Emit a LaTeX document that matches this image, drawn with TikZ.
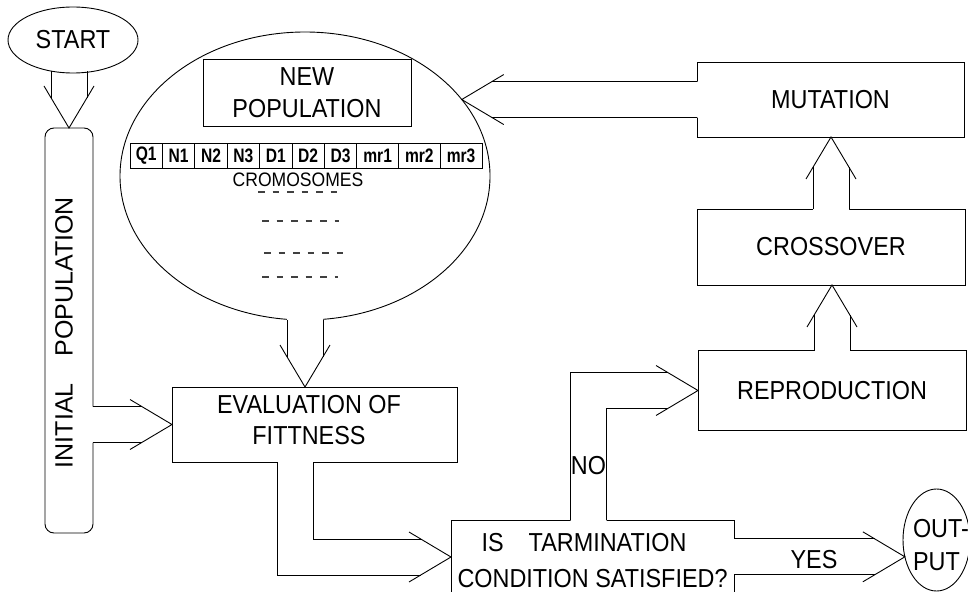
\documentclass[tikz,border=0pt]{standalone}
\usepackage{fontspec}
\setmainfont{Liberation Sans}[FakeStretch=0.9]
\newfontfamily\uprightsans{Liberation Sans}
\newfontfamily\cellsans{Liberation Sans}[FakeStretch=0.8]
\usetikzlibrary{shapes.geometric,calc}

\newcommand\lblfont{\fontsize{26}{31.5}\selectfont}
% block-arrow geometry: shaft half width, head half width, head length, shaft/head meeting distance
\def\baw{18pt}\def\bah{25pt}\def\bahl{42pt}\def\bamt{30.24pt}

% straight hollow block arrow from #2 (base) to #3 (tip);
% optional #1 = how far the white fill reaches back into the source shape
\newcommand\barrow[3][-1]{%
  \coordinate (ba-s) at (#2);
  \coordinate (ba-t) at (#3);
  \coordinate (ba-m) at ($(ba-t)!\bamt!(ba-s)$);
  \coordinate (ba-h) at ($(ba-t)!\bahl!(ba-s)$);
  \ifdim #1pt<0pt\else
    \coordinate (ba-e) at ($(ba-s)!-#1pt!(ba-t)$);
    \fill[white] ($(ba-e)!\baw!90:(ba-t)$) -- ($(ba-m)!\baw!90:(ba-t)$) -- (ba-t)
      -- ($(ba-m)!\baw!-90:(ba-t)$) -- ($(ba-e)!\baw!-90:(ba-t)$) -- cycle;
  \fi
  \draw ($(ba-s)!\baw!90:(ba-t)$) -- ($(ba-m)!\baw!90:(ba-t)$);
  \draw ($(ba-s)!\baw!-90:(ba-t)$) -- ($(ba-m)!\baw!-90:(ba-t)$);
  \draw ($(ba-h)!\bah!90:(ba-t)$) -- (ba-t) -- ($(ba-h)!\bah!-90:(ba-t)$);
}

\tikzset{
  box/.style={draw, rectangle, inner sep=0pt, outer sep=0pt, font=\lblfont, align=center},
  oval/.style={draw, ellipse, inner sep=0pt, outer sep=0pt, font=\lblfont},
  txt/.style={inner sep=0pt, outer sep=0pt, font=\lblfont},
  cell/.style={draw, rectangle, inner sep=0pt, outer sep=0pt, minimum height=25,
    font=\cellsans\bfseries\fontsize{19.5}{20}\selectfont},
  hyph/.style={dash pattern=on 6.5pt off 8pt, line width=1.4pt, black!75},
}

\begin{document}
\begin{tikzpicture}[x=1pt, y=-1pt, line width=0.9pt, line join=miter]
\useasboundingbox (0,0) rectangle (968,591);
\clip (0,0) rectangle (968,591);

% ---- shapes ----
\node[oval, minimum width=130, minimum height=66] (start) at (73,40) {START};
\node[box, rounded corners=9, minimum width=48, minimum height=405] (initpop) at (69,330.5) {};
\node[oval, minimum width=370, minimum height=288] (bigell) at (305,176) {};
\node[box, minimum width=208, minimum height=67] (newpop) at (307,92.5) {NEW\\POPULATION};
\node[box, minimum width=285, minimum height=75] (eval) at (314.5,424.5) {};
\node[box, minimum width=283, minimum height=74] (dec) at (592.5,557) {};
\node[oval, minimum width=67, minimum height=102] (output) at (936.5,540) {};
\node[box, minimum width=267, minimum height=75] (mutation) at (830.5,99.5) {MUTATION};
\node[box, minimum width=268, minimum height=76] (crossover) at (831,247) {CROSSOVER};
\node[box, minimum width=268, minimum height=80] (repro) at (832,390.5) {REPRODUCTION};

% chromosome string
\foreach \lab/\cx/\cw in {Q1/146.2/32.4, N1/178.6/32.4, N2/211.0/32.4, N3/243.4/32.4,
    D1/275.8/32.4, D2/308.2/32.4, D3/340.6/32.4, mr1/377.65/41.7, mr2/419.35/41.7, mr3/461.1/41.8}
  \node[cell, minimum width=\cw] (cell-\lab) at (\cx,155.5) {\lab};
\node[txt, font=\fontsize{19.5}{20}\selectfont] (cromo) at (298,180) {CROMOSOMES};
\draw[hyph] (258,192) -- (337,192);
\draw[hyph] (262,221) -- (339,221);
\draw[hyph] (264,253) -- (343,253);
\draw[hyph] (262,277) -- (338,277);

% ---- straight block arrows ----
\barrow{$(initpop.north |- start.south)+(0,-1.5)$}{initpop.north}
\barrow[3]{bigell.south}{bigell.south |- eval.north}
\barrow[3]{initpop.east |- eval.west}{eval.west}
\barrow[3]{mutation.west |- bigell.26}{bigell.26}
\barrow[3]{repro.north}{repro.north |- crossover.south}
\barrow[3]{crossover.north}{crossover.north |- mutation.south}
\barrow[3]{output.208 -| dec.east}{output.208}

% ---- bent block arrow: evaluation -> termination test ----
\coordinate (ed-s) at ($(eval.south)+(-19.5,0)$);
\coordinate (ed-t) at (dec.west);
\coordinate (ed-c) at (ed-s |- ed-t);
\fill[white] ($(ed-s)+(-18,-3)$) -- ($(ed-c)+(-18,18)$) -- ($(ed-t)+(-30.24,18)$) -- (ed-t)
  -- ($(ed-t)+(-30.24,-18)$) -- ($(ed-c)+(18,-18)$) -- ($(ed-s)+(18,-3)$) -- cycle;
\draw ($(ed-s)+(-18,0)$) -- ($(ed-c)+(-18,18)$) -- ($(ed-t)+(-30.24,18)$);
\draw ($(ed-s)+(18,0)$) -- ($(ed-c)+(18,-18)$) -- ($(ed-t)+(-30.24,-18)$);
\draw ($(ed-t)+(-42,-25)$) -- (ed-t) -- ($(ed-t)+(-42,25)$);

% ---- bent block arrow: termination test -> reproduction (NO) ----
\coordinate (nr-s) at ($(dec.north)+(-4,0)$);
\coordinate (nr-t) at (repro.west);
\coordinate (nr-c) at (nr-s |- nr-t);
\fill[white] ($(nr-s)+(-18,3)$) -- ($(nr-c)+(-18,-18)$) -- ($(nr-t)+(-30.24,-18)$) -- (nr-t)
  -- ($(nr-t)+(-30.24,18)$) -- ($(nr-c)+(18,18)$) -- ($(nr-s)+(18,3)$) -- cycle;
\draw ($(nr-s)+(-18,0)$) -- ($(nr-c)+(-18,-18)$) -- ($(nr-t)+(-30.24,-18)$);
\draw ($(nr-s)+(18,0)$) -- ($(nr-c)+(18,18)$) -- ($(nr-t)+(-30.24,18)$);
\draw ($(nr-t)+(-42,-25)$) -- (nr-t) -- ($(nr-t)+(-42,25)$);

% ---- texts ----
\node[txt, font=\uprightsans\fontsize{25}{30}\selectfont, rotate=90] (iptext) at (64,332.5)
  {INITIAL\hspace{27pt}POPULATION};
\node[txt, align=center] (evaltext) at (309,420) {EVALUATION OF\\FITTNESS};
\node[txt, anchor=base] (dec1) at (584,551) {IS\hspace{25pt}TARMINATION};
\node[txt, anchor=base] (dec2) at (592.5,587) {CONDITION SATISFIED?};
\node[txt] (no) at (588.5,466) {NO};
\node[txt] (yes) at (814,559.5) {YES};
\node[txt, anchor=base west] (out1) at (913,537) {OUT-};
\node[txt, anchor=base west] (out2) at (913,570) {PUT};
\end{tikzpicture}
\end{document}
